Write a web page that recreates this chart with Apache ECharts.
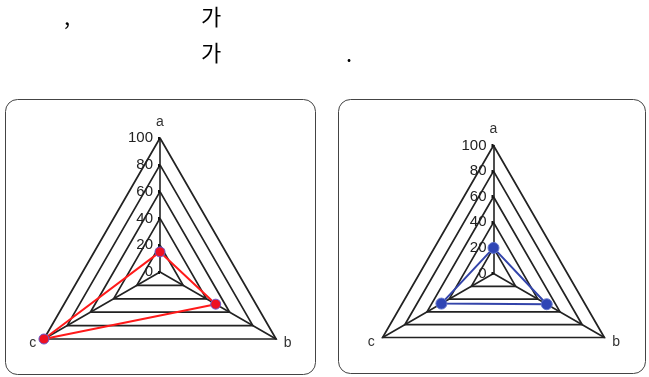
<!DOCTYPE html>
<html>
<head>
<meta charset="utf-8">
<script src="https://cdn.jsdelivr.net/npm/echarts@6/dist/echarts.min.js"></script>
<style>
html,body{margin:0;padding:0;background:#fff;}
#chart{width:649px;height:377px;}
</style>
</head>
<body>
<div id="chart"></div>
<script>
// ---- data ----
var categories = ['a', 'b', 'c'];
var leftValues = [15, 48, 100];   // red series (a, b, c)
var rightValues = [20, 48, 47];   // blue series (a, b, c)
var axisMax = 100;
var tickStep = 20;
var headerTexts = [',', '가', '가', '.'];

// ECharts places indicators counter-clockwise; draw order a, c, b so b is bottom-right
var drawOrder = [0, 2, 1];
function ordered(arr) { return drawOrder.map(function (i) { return arr[i]; }); }

var labelFont = "'Liberation Sans',Arial,sans-serif";
function indicators() {
  return ordered(categories).map(function (name, k) {
    var ind = { name: name, min: 0, max: axisMax };
    if (k === 0) {
      ind.axisLabel = { show: true };
      ind.axisTick = { show: true, length: 2, lineStyle: { width: 3, color: '#111' } };
    }
    return ind;
  });
}
function radarCfg(center, radius) {
  return {
    center: center,
    radius: radius,
    startAngle: 90,
    shape: 'polygon',
    splitNumber: axisMax / tickStep,
    indicator: indicators(),
    axisName: { color: '#333', fontSize: 14, fontFamily: labelFont },
    nameGap: 9,
    axisLine: { lineStyle: { color: '#222', width: 1.6 } },
    splitLine: { lineStyle: { color: '#222', width: 1.7 } },
    splitArea: { show: false },
    axisTick: { show: false },
    axisLabel: { show: false, color: '#222', fontSize: 15, fontFamily: labelFont, margin: 0, align: 'right', verticalAlign: 'middle', padding: [0, 7, 0, 0], showMinLabel: true, showMaxLabel: true }
  };
}

var chart = echarts.init(document.getElementById('chart'), null, { renderer: 'canvas' });
var cjk = "'Noto Sans CJK KR','Noto Sans',sans-serif";
chart.setOption({
  backgroundColor: '#fff',
  animation: false,
  graphic: [
    { type: 'rect', shape: { x: 5.5, y: 99.5, width: 310, height: 275, r: 12 }, style: { fill: 'none', stroke: '#444', lineWidth: 1 }, z: 0 },
    { type: 'rect', shape: { x: 338.5, y: 99.5, width: 307, height: 274, r: 12 }, style: { fill: 'none', stroke: '#444', lineWidth: 1 }, z: 0 },
    { type: 'text', x: 64, y: 17, style: { text: headerTexts[0], font: '22px ' + cjk, fill: '#000', verticalAlign: 'middle', align: 'left' } },
    { type: 'text', x: 211, y: 17, style: { text: headerTexts[1], font: '22px ' + cjk, fill: '#000', verticalAlign: 'middle', align: 'center' } },
    { type: 'text', x: 211, y: 53, style: { text: headerTexts[2], font: '22px ' + cjk, fill: '#000', verticalAlign: 'middle', align: 'center' } },
    { type: 'text', x: 346, y: 54, style: { text: headerTexts[3], font: '22px ' + cjk, fill: '#000', verticalAlign: 'middle', align: 'left' } }
  ],
  radar: [
    radarCfg([160, 272], 134),
    radarCfg([493.5, 273.5], 128)
  ],
  series: [
    {
      type: 'radar', radarIndex: 0,
      symbol: 'circle', symbolSize: 10,
      lineStyle: { color: '#ff1a1a', width: 2 },
      itemStyle: { color: '#ee1122', borderColor: '#6a5acd', borderWidth: 1 },
      data: [{ value: ordered(leftValues) }]
    },
    {
      type: 'radar', radarIndex: 1,
      symbol: 'circle', symbolSize: 11,
      lineStyle: { color: '#3344aa', width: 2 },
      itemStyle: { color: '#2f45b5', borderColor: '#6677cc', borderWidth: 1 },
      data: [{ value: ordered(rightValues) }]
    }
  ]
});
</script>
</body>
</html>
